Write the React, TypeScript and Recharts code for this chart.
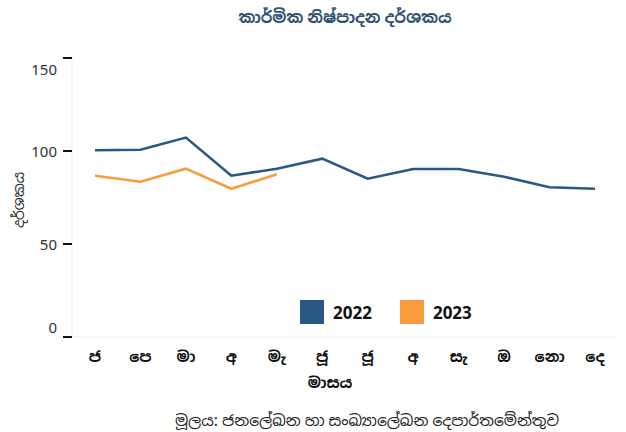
import { Line, LineChart, XAxis, YAxis } from 'recharts';

const months = ['ජ', 'පෙ', 'මා', 'අ', 'මැ', 'ජූ', 'ජූ', 'අ', 'සැ', 'ඔ', 'නො', 'දෙ'];
const values2022 = [100.4, 100.7, 107.2, 86.7, 90.5, 95.9, 85.1, 90.3, 90.3, 86.2, 80.5, 79.7];
const values2023 = [86.7, 83.5, 90.5, 79.7, 87.5];
const yTicks = [0, 50, 100, 150];

const series = [
  { key: 'y2022', name: '2022', color: '#2b5784' },
  { key: 'y2023', name: '2023', color: '#f79d40' },
];

const data = months.map((m, i) => ({
  month: m,
  y2022: values2022[i],
  y2023: values2023[i],
}));

const font = '"Noto Sans", "Noto Sans Sinhala", sans-serif';

// labels on the outer ticks sit inside the range, like the source chart
function YTick({ x, y, payload }: any) {
  const v = payload.value;
  const dy = v === 150 ? 17 : v === 0 ? -4 : 6;
  return (
    <text x={x - 4} y={y + dy} textAnchor="end" fontSize={15} fill="#333" fontFamily={font}>
      {v}
    </text>
  );
}

export default function App() {
  return (
    <div style={{ position: 'absolute', left: 0, top: 0, width: 626, height: 432, fontFamily: font }}>
      <div
        style={{
          position: 'absolute', left: 0, top: 6, width: 690, textAlign: 'center',
          fontWeight: 700, fontSize: 16, color: '#2f5070',
        }}
      >
        කාර්මික නිෂ්පාදන දර්ශකය
      </div>
      <LineChart
        width={626}
        height={432}
        data={data}
        margin={{ top: 58, right: 10, left: 0, bottom: 0 }}
      >
        <XAxis
          dataKey="month"
          height={95}
          padding={{ left: 23, right: 21 }}
          axisLine={{ stroke: '#eeeeee' }}
          tickLine={false}
          tick={{ fontSize: 15, fontWeight: 700, fill: '#111', fontFamily: font }}
          tickMargin={8}
          interval={0}
        />
        <YAxis
          width={72}
          domain={[0, 150]}
          ticks={yTicks}
          axisLine={{ stroke: '#eeeeee' }}
          tickLine={{ stroke: '#111', strokeWidth: 2 }}
          tickSize={9}
          tick={<YTick />}
        />
        {series.map((s) => (
          <Line
            key={s.key}
            type="linear"
            dataKey={s.key}
            name={s.name}
            stroke={s.color}
            strokeWidth={2.6}
            dot={false}
            activeDot={false}
            isAnimationActive={false}
          />
        ))}
      </LineChart>
      <div style={{ position: 'absolute', left: 300, top: 300, display: 'flex', alignItems: 'center' }}>
        {series.map((s) => (
          <div key={s.key} style={{ display: 'flex', alignItems: 'center', marginRight: 28 }}>
            <div style={{ width: 24, height: 24, background: s.color, marginRight: 9 }} />
            <span style={{ fontWeight: 700, fontSize: 17, color: '#111' }}>{s.name}</span>
          </div>
        ))}
      </div>
      <div
        style={{
          position: 'absolute', left: 18, top: 200, transform: 'translate(-50%, -50%) rotate(-90deg)',
          fontSize: 14, color: '#222', whiteSpace: 'nowrap',
        }}
      >
        දර්ශකය
      </div>
      <div
        style={{
          position: 'absolute', left: 230, top: 372, width: 200, textAlign: 'center',
          fontWeight: 700, fontSize: 15, color: '#111',
        }}
      >
        මාසය
      </div>
      <div
        style={{
          position: 'absolute', left: 67, top: 409, width: 600, textAlign: 'center',
          fontSize: 15.5, color: '#222',
        }}
      >
        මූලය: ජනලේඛන හා සංඛ්‍යාලේඛන දෙපාර්තමේන්තුව
      </div>
    </div>
  );
}
